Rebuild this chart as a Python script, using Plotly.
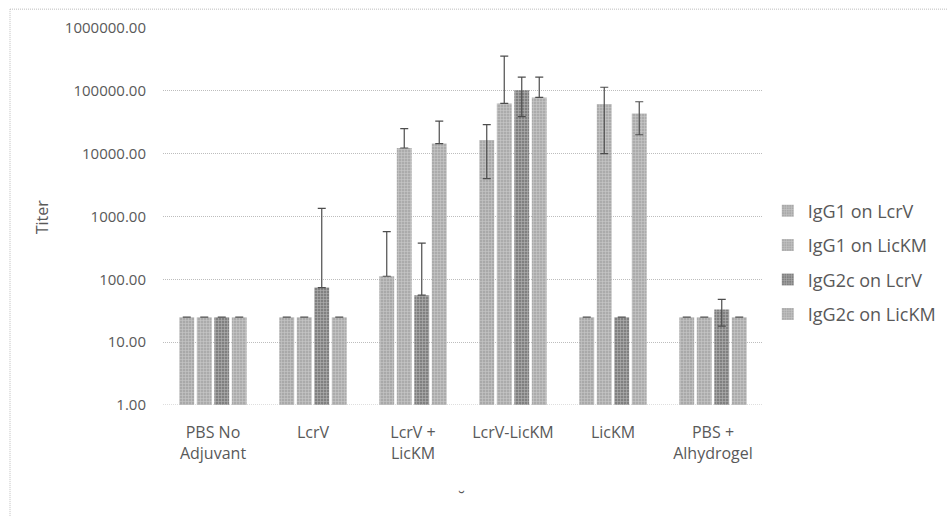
import plotly.graph_objects as go

categories = ["PBS No<br>Adjuvant", "LcrV", "LcrV +<br>LicKM", "LcrV-LicKM", "LicKM", "PBS +<br>Alhydrogel"]
series_names = ["IgG1 on LcrV", "IgG1 on LicKM", "IgG2c on LcrV", "IgG2c on LicKM"]

igg1_lcrv = [25, 25, 112, 16500, 25, 25]
igg1_lickm = [25, 25, 12300, 63000, 62000, 25]
igg2c_lcrv = [25, 74, 56, 102000, 25, 33]
igg2c_lickm = [25, 25, 14500, 78500, 43500, 25]

err_igg1_lcrv = [0, 0, 463, 12500, 0, 0]
err_igg1_lickm = [0, 0, 12700, 294000, 52000, 0]
err_igg2c_lcrv = [0, 1276, 320, 63000, 0, 15]
err_igg2c_lickm = [0, 0, 18500, 86500, 23500, 0]

values = [igg1_lcrv, igg1_lickm, igg2c_lcrv, igg2c_lickm]
errors = [err_igg1_lcrv, err_igg1_lickm, err_igg2c_lcrv, err_igg2c_lickm]
colors = ["#a9a9a9", "#ababab", "#808080", "#ababab"]

fig = go.Figure()
for i, (name, vals, errs, col) in enumerate(zip(series_names, values, errors, colors)):
    minus = [e if e < v else 0 for v, e in zip(vals, errs)]
    fig.add_trace(go.Bar(
        x=categories, y=vals, name=name, legendgroup=str(i),
        marker=dict(color=col, line=dict(width=0),
                    pattern=dict(shape="+", size=3, solidity=0.35, fgcolor="#e6e6e6", fillmode="overlay")),
        error_y=dict(type="data", array=errs, arrayminus=minus, visible=True,
                     color="#4d4d4d", thickness=1.2, width=4),
    ))

grid_col = "#bdbdbd"
fig.update_layout(
    width=947, height=516,
    margin=dict(l=163, r=184, t=28, b=111, autoexpand=False),
    paper_bgcolor="white", plot_bgcolor="white",
    barmode="group", bargap=0.3, bargroupgap=0.15,
    font=dict(family="Open Sans", color="#595959", size=14),
    legend=dict(x=1.008, xanchor="left", y=0.378, yanchor="middle",
                font=dict(size=18, color="#595959"), tracegroupgap=8,
                itemwidth=30, bgcolor="rgba(0,0,0,0)"),
    showlegend=True,
)
fig.update_yaxes(type="log", range=[0, 6], dtick=1, tickformat=".2f",
                 showgrid=True, gridcolor=grid_col, griddash="1px,1px", gridwidth=1,
                 zeroline=False, showline=False, ticks="", ticklabelstandoff=16,
                 tickfont=dict(size=15, color="#595959"))
fig.update_xaxes(showgrid=False, showline=False, ticks="", ticklabelstandoff=16,
                 tickfont=dict(size=16, color="#595959"))

# bottom dotted line at 1.00
fig.add_shape(type="line", xref="paper", yref="y", x0=0, x1=1, y0=1, y1=1,
              line=dict(color=grid_col, width=1, dash="1px,1px"))
# chart frame (top and left dotted)
fig.add_shape(type="line", xref="paper", yref="paper", x0=-0.255, x1=1.31, y0=1.05, y1=1.05,
              line=dict(color=grid_col, width=1, dash="1px,1px"))
fig.add_shape(type="line", xref="paper", yref="paper", x0=-0.255, x1=-0.255, y0=1.05, y1=-0.3,
              line=dict(color=grid_col, width=1, dash="1px,1px"))

fig.add_annotation(text="Titer", textangle=-90, xref="paper", yref="paper",
                   x=-0.202, y=0.5, xanchor="center", yanchor="middle",
                   showarrow=False, font=dict(size=16, color="#595959"))
fig.add_annotation(text="˘", xref="paper", yref="paper", x=0.498, y=-0.245,
                   xanchor="center", yanchor="middle",
                   showarrow=False, font=dict(size=18, color="#595959"))

fig.write_html("out.html")
